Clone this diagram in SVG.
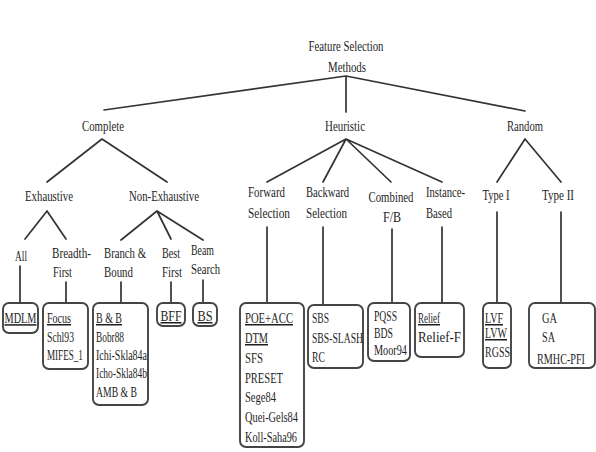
<svg xmlns="http://www.w3.org/2000/svg" width="596" height="452" viewBox="0 0 596 452">
<style>
text{font-family:"Liberation Serif","Times New Roman",serif;font-size:15px;fill:#1e1e1e}
.s{font-size:14px}
.m{text-anchor:middle}
.u{text-decoration:underline}
.c{fill:none;stroke:#333;stroke-width:1.7;stroke-linecap:round;stroke-linejoin:round}
.b{fill:#fff;stroke:#444;stroke-width:1.9}
</style>
<rect width="596" height="452" fill="#fff"/>
<g id="connectors" class="c">
<path d="M104,110 L346,76 L525,111 M346,76 L346,112"/>
<path d="M47,182 L102,139 L167,182"/>
<path d="M267,182 L346,139 L442,182 M323,182 L346,139 L391,182"/>
<path d="M497,182 L525,139 L561,182"/>
<path d="M25,239 L47,211 L66,239"/>
<path d="M121,240 L157,211 L203,240 M157,211 L171,239"/>
<path d="M20,266 V303 M66,282 V303 M121,282 V303 M171,282 V303 M203,280 V303"/>
<path d="M267,227 V303 M323,227 V305 M392,229 V303 M442,227 V303"/>
<path d="M497,212 V303 M561,212 V303"/>
</g>
<g id="root">
<text class="m" x="346" y="51" textLength="75" lengthAdjust="spacingAndGlyphs">Feature Selection</text>
<text class="m" x="347" y="72" textLength="38" lengthAdjust="spacingAndGlyphs">Methods</text>
</g>
<g id="complete"><text class="m" x="103" y="131" textLength="42" lengthAdjust="spacingAndGlyphs">Complete</text></g>
<g id="heuristic"><text class="m" x="345" y="131" textLength="40" lengthAdjust="spacingAndGlyphs">Heuristic</text></g>
<g id="random"><text class="m" x="525" y="131" textLength="36" lengthAdjust="spacingAndGlyphs">Random</text></g>
<g id="exhaustive"><text class="m" x="49" y="201" textLength="48" lengthAdjust="spacingAndGlyphs">Exhaustive</text></g>
<g id="nonexhaustive"><text class="m" x="164" y="201" textLength="70" lengthAdjust="spacingAndGlyphs">Non-Exhaustive</text></g>
<g id="all"><text class="m" x="21" y="261" textLength="12" lengthAdjust="spacingAndGlyphs">All</text></g>
<g id="breadth">
<text x="52" y="258" textLength="39" lengthAdjust="spacingAndGlyphs">Breadth-</text>
<text x="53" y="277" textLength="19" lengthAdjust="spacingAndGlyphs">First</text>
</g>
<g id="branch">
<text x="104" y="258" textLength="42" lengthAdjust="spacingAndGlyphs">Branch &amp;</text>
<text x="104" y="277" textLength="29" lengthAdjust="spacingAndGlyphs">Bound</text>
</g>
<g id="best">
<text x="162" y="258" textLength="18" lengthAdjust="spacingAndGlyphs">Best</text>
<text x="162" y="277" textLength="20" lengthAdjust="spacingAndGlyphs">First</text>
</g>
<g id="beam">
<text x="191" y="255" textLength="23" lengthAdjust="spacingAndGlyphs">Beam</text>
<text x="191" y="274" textLength="29" lengthAdjust="spacingAndGlyphs">Search</text>
</g>
<g id="forward">
<text x="248" y="197" textLength="37" lengthAdjust="spacingAndGlyphs">Forward</text>
<text x="248" y="218" textLength="42" lengthAdjust="spacingAndGlyphs">Selection</text>
</g>
<g id="backward">
<text x="306" y="197" textLength="43" lengthAdjust="spacingAndGlyphs">Backward</text>
<text x="306" y="218" textLength="41" lengthAdjust="spacingAndGlyphs">Selection</text>
</g>
<g id="combined">
<text class="m" x="391" y="202" textLength="45" lengthAdjust="spacingAndGlyphs">Combined</text>
<text class="m" x="392" y="222" textLength="18" lengthAdjust="spacingAndGlyphs">F/B</text>
</g>
<g id="instance">
<text x="426" y="197" textLength="39" lengthAdjust="spacingAndGlyphs">Instance-</text>
<text x="426" y="218" textLength="26" lengthAdjust="spacingAndGlyphs">Based</text>
</g>
<g id="type1"><text class="m" x="496" y="200" textLength="27" lengthAdjust="spacingAndGlyphs">Type I</text></g>
<g id="type2"><text class="m" x="558" y="200" textLength="32" lengthAdjust="spacingAndGlyphs">Type II</text></g>
<g id="box-mdlm">
<rect class="b" x="3" y="303" width="35" height="30" rx="6"/>
<text class="u" transform="matrix(0.685 0 0 1 4.5 323)">MDLM</text>
</g>
<g id="box-focus">
<rect class="b" x="43" y="303" width="45" height="66" rx="6"/>
<text class="u" x="47" y="323" textLength="24" lengthAdjust="spacingAndGlyphs">Focus</text>
<text x="47" y="342" textLength="27" lengthAdjust="spacingAndGlyphs">Schl93</text>
<text transform="matrix(0.607 0 0 1 47 360)">MIFES_1</text>
</g>
<g id="box-bb">
<rect class="b" x="93" y="303" width="55" height="102" rx="6"/>
<text class="u" x="96" y="323" textLength="26" lengthAdjust="spacingAndGlyphs">B &amp; B</text>
<text x="96" y="342" textLength="28" lengthAdjust="spacingAndGlyphs">Bobr88</text>
<text x="96" y="360" textLength="51" lengthAdjust="spacingAndGlyphs">Ichi-Skla84a</text>
<text x="96" y="378" textLength="51" lengthAdjust="spacingAndGlyphs">Icho-Skla84b</text>
<text x="96" y="397" textLength="41" lengthAdjust="spacingAndGlyphs">AMB &amp; B</text>
</g>
<g id="box-bff">
<rect class="b" x="157" y="303" width="28" height="23" rx="6"/>
<text class="u m" x="171" y="321" textLength="21" lengthAdjust="spacingAndGlyphs">BFF</text>
</g>
<g id="box-bs">
<rect class="b" x="193" y="303" width="24" height="23" rx="6"/>
<text class="u m" x="205" y="321" textLength="15" lengthAdjust="spacingAndGlyphs">BS</text>
</g>
<g id="box-poe">
<rect class="b" x="240" y="303" width="64" height="144" rx="6"/>
<text class="u" x="245" y="323" textLength="48" lengthAdjust="spacingAndGlyphs">POE+ACC</text>
<text class="u" x="245" y="343" textLength="23" lengthAdjust="spacingAndGlyphs">DTM</text>
<text x="245" y="363" textLength="18" lengthAdjust="spacingAndGlyphs">SFS</text>
<text x="245" y="383" textLength="38" lengthAdjust="spacingAndGlyphs">PRESET</text>
<text x="245" y="402" textLength="31" lengthAdjust="spacingAndGlyphs">Sege84</text>
<text x="245" y="422" textLength="53" lengthAdjust="spacingAndGlyphs">Quei-Gels84</text>
<text x="245" y="442" textLength="52" lengthAdjust="spacingAndGlyphs">Koll-Saha96</text>
</g>
<g id="box-sbs">
<rect class="b" x="308" y="305" width="55" height="63" rx="6"/>
<text x="312" y="323" textLength="17" lengthAdjust="spacingAndGlyphs">SBS</text>
<text transform="matrix(0.644 0 0 1 312 343)">SBS-SLASH</text>
<text x="312" y="362" textLength="13" lengthAdjust="spacingAndGlyphs">RC</text>
</g>
<g id="box-pqss">
<rect class="b" x="368" y="303" width="42" height="58" rx="6"/>
<text class="s" x="374" y="321" textLength="23" lengthAdjust="spacingAndGlyphs">PQSS</text>
<text class="s" x="374" y="338" textLength="19" lengthAdjust="spacingAndGlyphs">BDS</text>
<text class="s" x="374" y="355" textLength="33" lengthAdjust="spacingAndGlyphs">Moor94</text>
</g>
<g id="box-relief">
<rect class="b" x="415" y="303" width="49" height="54" rx="6"/>
<text class="u" x="418" y="323" textLength="22" lengthAdjust="spacingAndGlyphs">Relief</text>
<text x="418" y="342" textLength="43" lengthAdjust="spacingAndGlyphs">Relief-F</text>
</g>
<g id="box-lvf">
<rect class="b" x="483" y="303" width="28" height="65" rx="6"/>
<text class="u" x="485" y="323" textLength="18" lengthAdjust="spacingAndGlyphs">LVF</text>
<text class="u" x="485" y="338" textLength="22" lengthAdjust="spacingAndGlyphs">LVW</text>
<text x="485" y="357" textLength="25" lengthAdjust="spacingAndGlyphs">RGSS</text>
</g>
<g id="box-ga">
<rect class="b" x="529" y="303" width="66" height="65" rx="6"/>
<text x="542" y="323" textLength="15" lengthAdjust="spacingAndGlyphs">GA</text>
<text x="542" y="342" textLength="13" lengthAdjust="spacingAndGlyphs">SA</text>
<text transform="matrix(0.678 0 0 1 537 364)">RMHC-PFI</text>
</g>
</svg>
